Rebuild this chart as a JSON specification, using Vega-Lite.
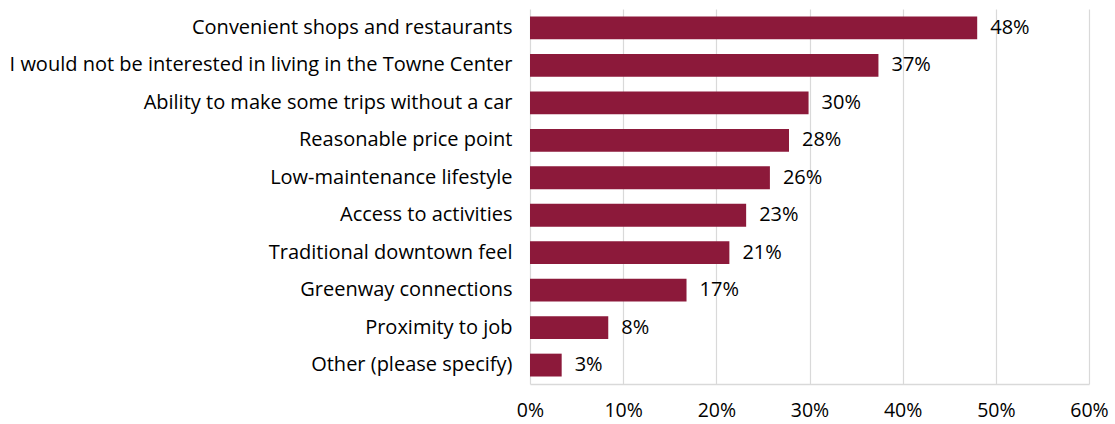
{
  "$schema": "https://vega.github.io/schema/vega-lite/v6.json",
  "autosize": "none",
  "width": 559,
  "height": 375,
  "padding": {"left": 530, "top": 9, "right": 26, "bottom": 40},
  "background": "white",
  "config": {"view": {"stroke": null}, "font": "Open Sans"},
  "data": {
    "values": [
      {"option": "Convenient shops and restaurants", "pct": 0.48},
      {"option": "I would not be interested in living in the Towne Center", "pct": 0.374},
      {"option": "Ability to make some trips without a car", "pct": 0.299},
      {"option": "Reasonable price point", "pct": 0.278},
      {"option": "Low-maintenance lifestyle", "pct": 0.2575},
      {"option": "Access to activities", "pct": 0.232},
      {"option": "Traditional downtown feel", "pct": 0.214},
      {"option": "Greenway connections", "pct": 0.168},
      {"option": "Proximity to job", "pct": 0.084},
      {"option": "Other (please specify)", "pct": 0.034}
    ]
  },
  "encoding": {
    "y": {
      "field": "option", "type": "nominal", "sort": null, "title": null,
      "scale": {"paddingInner": 0.39, "paddingOuter": 0.2},
      "axis": {"ticks": false, "domain": false, "grid": false, "labelFontSize": 20, "labelColor": "#000000", "labelPadding": 18, "labelLimit": 600, "labelFont": "Open Sans"}
    },
    "x": {
      "field": "pct", "type": "quantitative", "title": null,
      "scale": {"domain": [0, 0.6], "nice": false},
      "axis": {"format": "%", "values": [0, 0.1, 0.2, 0.3, 0.4, 0.5, 0.6], "ticks": false, "labelFlush": false, "labelOverlap": false, "domain": true, "domainColor": "#d9d9d9", "domainWidth": 1.5, "grid": true, "gridColor": "#d9d9d9", "gridWidth": 1.2, "labelFontSize": 19.5, "labelColor": "#000000", "labelPadding": 17, "labelFont": "Open Sans"}
    }
  },
  "layer": [
    {"mark": {"type": "bar", "color": "#8C193A"}},
    {
      "mark": {"type": "text", "align": "left", "dx": 13, "fontSize": 20, "color": "#000000", "font": "Open Sans"},
      "encoding": {"text": {"field": "pct", "type": "quantitative", "format": ".0%"}}
    }
  ]
}
